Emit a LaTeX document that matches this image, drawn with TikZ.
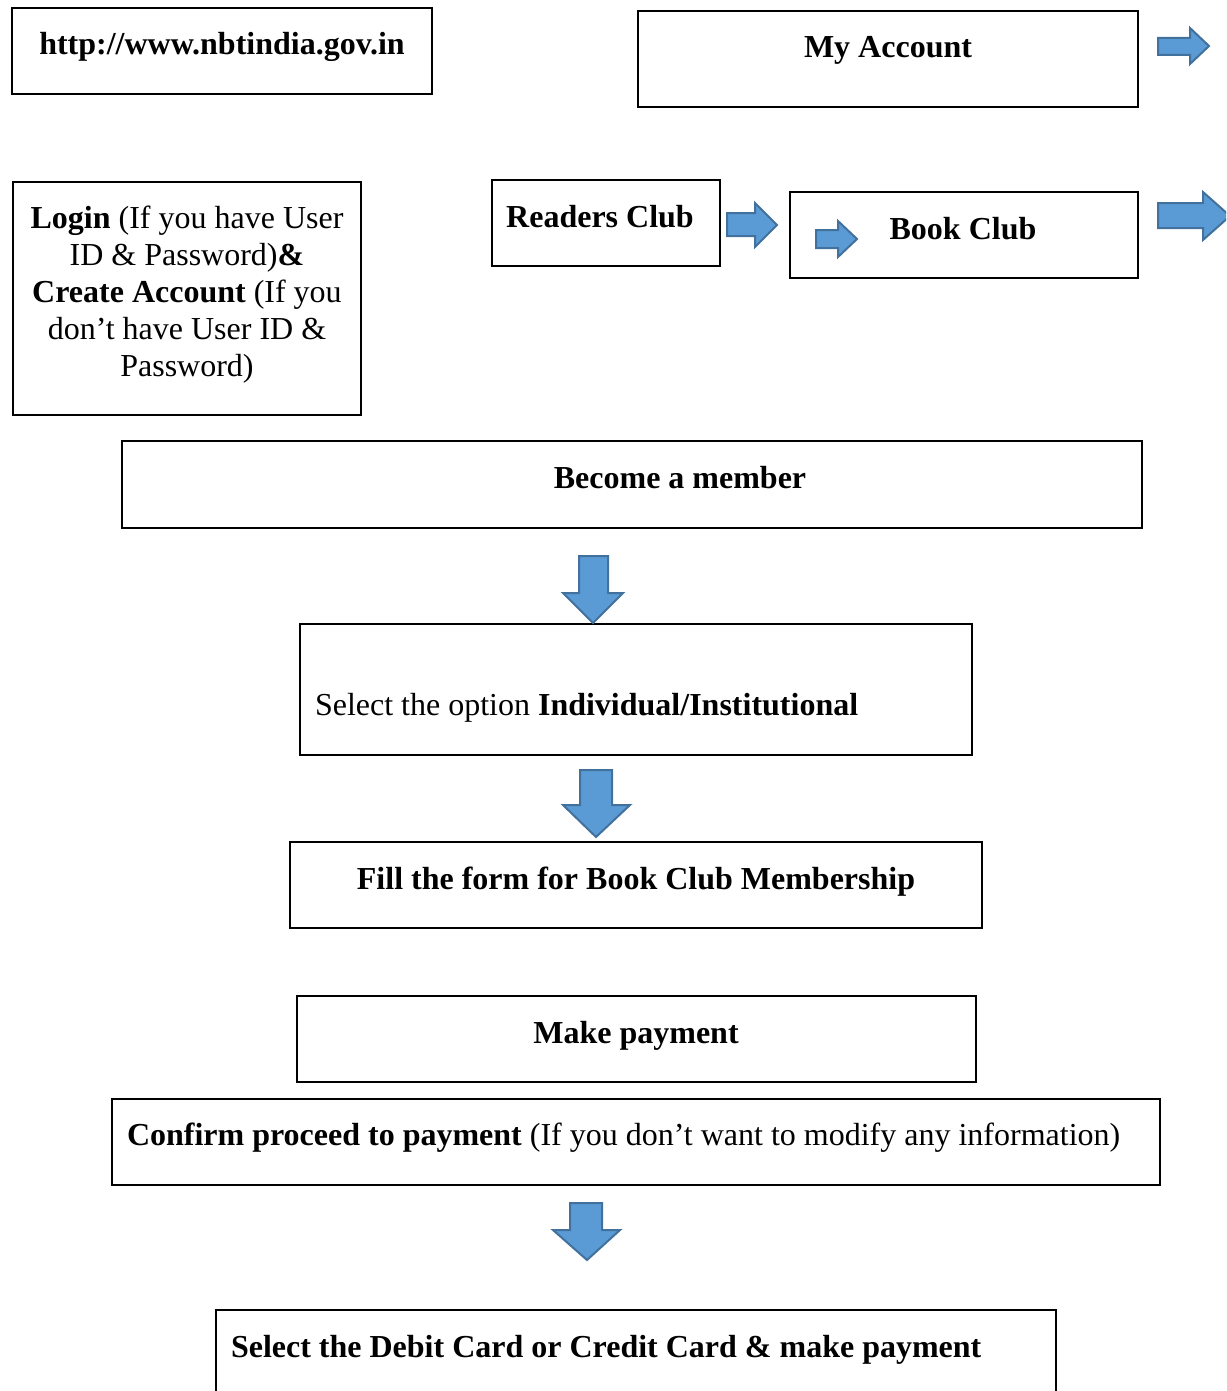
\documentclass[tikz,border=0pt]{standalone}
\usepackage{fontspec}
\setmainfont{Liberation Serif}
\definecolor{arrfill}{HTML}{5B9BD5}
\definecolor{arrline}{HTML}{41719C}
\begin{document}
\begin{tikzpicture}[x=1pt,y=-1pt,
  box/.style={draw=black,line width=2pt,inner sep=0pt,outer sep=0pt,anchor=north west},
  txt/.style={inner sep=0pt,outer sep=0pt,font=\fontsize{32}{37}\selectfont},
  blockarrow/.style={draw=arrline,fill=arrfill,line width=2pt,line join=miter}]
\useasboundingbox (0,0) rectangle (1226,1391);
\clip (0,0) rectangle (1226,1391);
\fill[white] (0,0) rectangle (1226,1391);
% boxes
\node[box,minimum width=420pt,minimum height=86pt] (url) at (12,8) {};
\node[box,minimum width=500pt,minimum height=96pt] (myacc) at (638,11) {};
\node[box,minimum width=348pt,minimum height=233pt] (login) at (13,182) {};
\node[box,minimum width=228pt,minimum height=86pt] (readers) at (492,180) {};
\node[box,minimum width=348pt,minimum height=86pt] (book) at (790,192) {};
\node[box,minimum width=1020pt,minimum height=87pt] (member) at (122,441) {};
\node[box,minimum width=672pt,minimum height=131pt] (select) at (300,624) {};
\node[box,minimum width=692pt,minimum height=86pt] (fill) at (290,842) {};
\node[box,minimum width=679pt,minimum height=86pt] (pay) at (297,996) {};
\node[box,minimum width=1048pt,minimum height=86pt] (confirm) at (112,1099) {};
\node[box,minimum width=840pt,minimum height=100pt] (debit) at (216,1310) {};
% texts
\node[txt,anchor=base] (turl) at (222,55) {\textbf{http://www.nbtindia.gov.in}};
\node[txt,anchor=base] (tmyacc) at (888,58) {\textbf{My Account}};
\node[txt,anchor=base,text width=346pt,align=flush center] (tlogin) at (187,228)
  {\textbf{Login} (If you have User\\ID \& Password)\textbf{\&}\\\textbf{Create Account} (If you\\don’t have User ID \&\\Password)};
\node[txt,anchor=base] (treaders) at (600,227) {\textbf{Readers Club}};
\node[txt,anchor=base] (tbook) at (963,239) {\textbf{Book Club}};
\node[txt,anchor=base] (tmember) at (680,488) {\textbf{Become a member}};
\node[txt,anchor=base west] (tselect) at (315,715) {Select the option \textbf{Individual/Institutional}};
\node[txt,anchor=base] (tfill) at (636,889) {\textbf{Fill the form for Book Club Membership}};
\node[txt,anchor=base] (tpay) at (636,1043) {\textbf{Make payment}};
\node[txt,anchor=base west] (tconfirm) at (127,1145) {\textbf{Confirm proceed to payment} (If you don’t want to modify any information)};
\node[txt,anchor=base west] (tdebit) at (231,1357) {\textbf{Select the Debit Card or Credit Card \& make payment}};
% block arrows
\draw[blockarrow] (1158,38) -- (1190,38) -- (1190,28) -- (1209,46) -- (1190,64) -- (1190,55) -- (1158,55) -- cycle;
\draw[blockarrow] (1158,203) -- (1203,203) -- (1203,192) -- (1230,216) -- (1203,240) -- (1203,228) -- (1158,228) -- cycle;
\draw[blockarrow] (727,213) -- (755,213) -- (755,203) -- (777,225) -- (755,247) -- (755,236) -- (727,236) -- cycle;
\draw[blockarrow] (816,230) -- (838,230) -- (838,221) -- (857,239) -- (838,257) -- (838,248) -- (816,248) -- cycle;
\draw[blockarrow] (579,556) -- (608,556) -- (608,593) -- (623,593) -- (593,623) -- (563,593) -- (579,593) -- cycle;
\draw[blockarrow] (580,770) -- (612,770) -- (612,805) -- (630,805) -- (596,837) -- (563,805) -- (580,805) -- cycle;
\draw[blockarrow] (570,1203) -- (602,1203) -- (602,1230) -- (620,1230) -- (587,1260) -- (553,1230) -- (570,1230) -- cycle;
\end{tikzpicture}
\end{document}
